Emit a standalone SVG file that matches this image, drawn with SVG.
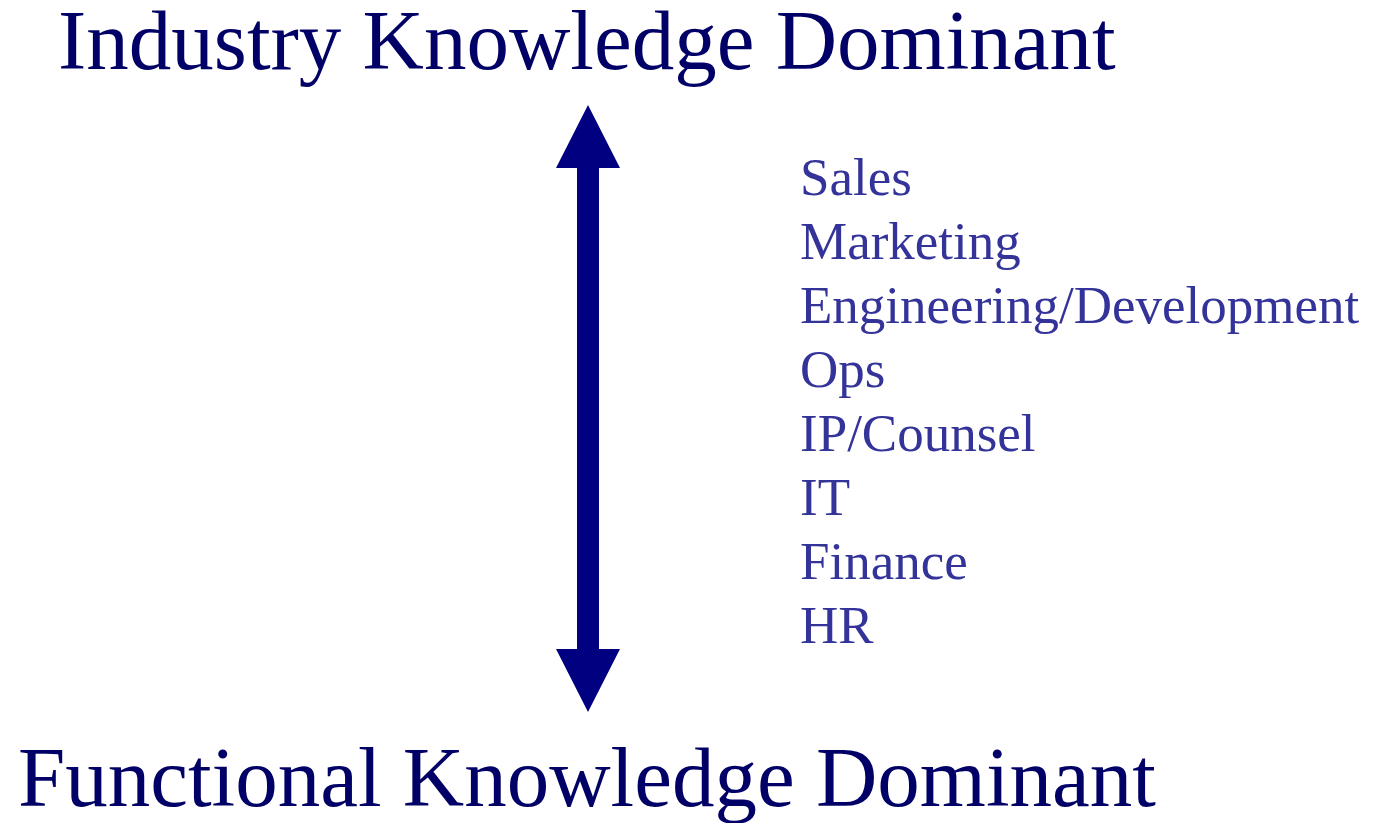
<svg xmlns="http://www.w3.org/2000/svg" width="1373" height="823" viewBox="0 0 1373 823">
  <style>
    .title { font-family: "Liberation Serif", "Times New Roman", serif; font-size: 85px; fill: #000066; }
    .item { font-family: "Liberation Serif", "Times New Roman", serif; font-size: 53px; fill: #333399; }
  </style>
  <rect width="1373" height="823" fill="#ffffff"/>
  <g id="top-label">
    <text class="title" x="58" y="69">Industry Knowledge Dominant</text>
  </g>
  <g id="bottom-label">
    <text class="title" x="18" y="806">Functional Knowledge Dominant</text>
  </g>
  <g id="connectors">
    <!-- double-headed vertical arrow -->
    <polygon fill="#000080" points="588,105 620,168 599,168 599,649 620,649 588,712 556,649 577,649 577,168 556,168"/>
  </g>
  <g id="functions">
    <text class="item" x="800" y="195">Sales</text>
    <text class="item" x="800" y="259">Marketing</text>
    <text class="item" x="800" y="323">Engineering/Development</text>
    <text class="item" x="800" y="387">Ops</text>
    <text class="item" x="800" y="451">IP/Counsel</text>
    <text class="item" x="800" y="515">IT</text>
    <text class="item" x="800" y="579">Finance</text>
    <text class="item" x="800" y="643">HR</text>
  </g>
</svg>
